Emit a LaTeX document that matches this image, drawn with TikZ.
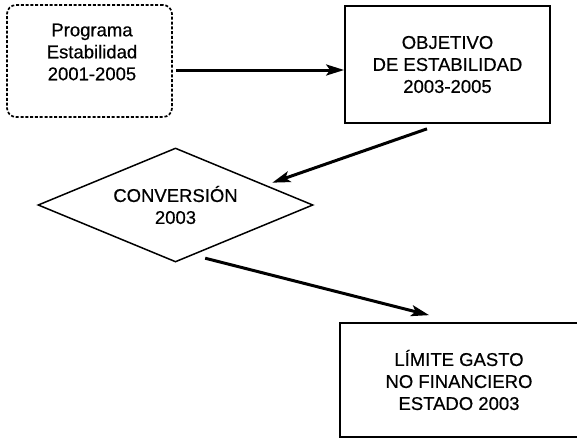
\documentclass[tikz,border=0pt]{standalone}
\usepackage{fontspec}
\setmainfont{Liberation Sans}
\newfontfamily\heavyreg[FakeBold=0.5]{Liberation Sans}
\usetikzlibrary{shapes.geometric,arrows.meta,calc}
\begin{document}
\begin{tikzpicture}[x=1pt,y=-1pt,
  txt/.style={font=\heavyreg\fontsize{18.5}{22}\selectfont, align=center, inner sep=0pt},
  boxnode/.style={draw, line width=1.7pt, inner sep=0pt},
  arr/.style={line width=3pt, -{Stealth[length=18pt,width=11pt,inset=4pt]}}]
\useasboundingbox (0,0) rectangle (577,439);
\fill[white] (0,0) rectangle (577,439);
% nodes
\node[boxnode, dashed, dash pattern=on 3pt off 1.8pt, rounded corners=9pt,
      minimum width=165pt, minimum height=112pt] (prog) at (89.5,61) {};
\node[txt] (progtxt) at (92,52) {Programa\\Estabilidad\\2001-2005};
\node[boxnode, minimum width=205pt, minimum height=117pt, txt] (obj) at (447.5,64.5) {OBJETIVO\\DE ESTABILIDAD\\2003-2005};
\node[draw, diamond, line width=1.5pt, aspect=2.4, minimum width=275pt, minimum height=114pt, txt] (conv) at (175.5,205) {CONVERSIÓN\\2003};
\node[boxnode, minimum width=238pt, minimum height=114pt, txt] (lim) at (459,380) {LÍMITE GASTO\\NO FINANCIERO\\ESTADO 2003};
% connectors
\draw[arr] ($(prog.east)+(3,9)$) -- ($(obj.west)+(0,5.5)$);
\draw[arr] ($(obj.south)+(-20.5,5)$) -- ($(conv.east)!0.3!(conv.north)+(0,-5)$);
\draw[arr] ($(conv.south)!0.2!(conv.east)+(2,7)$) -- ($(lim.north west)+(90,-7)$);
\end{tikzpicture}
\end{document}
